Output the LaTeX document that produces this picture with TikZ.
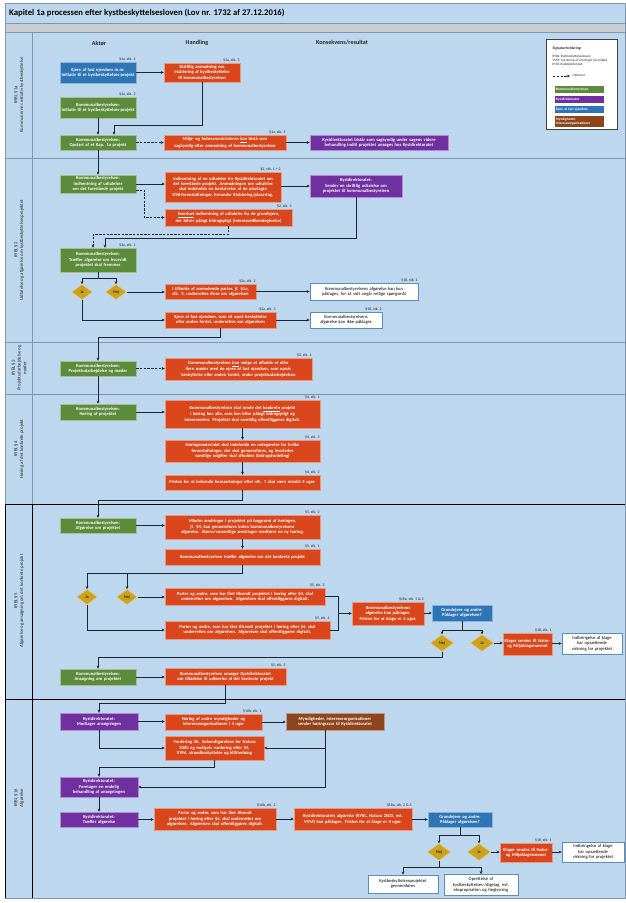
\documentclass[tikz,border=0pt]{standalone}
\usepackage{fontspec}
\setmainfont{Carlito}
\usetikzlibrary{arrows.meta,shapes.geometric,calc}
\definecolor{cgreen}{HTML}{5B8B3B}
\definecolor{corange}{HTML}{DA461C}
\definecolor{cpurple}{HTML}{7030A0}
\definecolor{cblue}{HTML}{2E75B6}
\definecolor{cbrown}{HTML}{8E451C}
\definecolor{cgold}{HTML}{CDA21A}
\definecolor{clane}{HTML}{BDD7EE}
\definecolor{cband}{HTML}{C9CED4}
\definecolor{cline}{HTML}{1B2633}
\definecolor{csep}{HTML}{7F96AD}
\definecolor{cwhiteb}{HTML}{5B8DBF}
\begin{document}
\hyphenpenalty=10000
\exhyphenpenalty=10000
\begin{tikzpicture}[x=0.03cm,y=-0.03cm,
 wh/.code 2 args={\pgfmathsetmacro\nw{#1*0.03*28.45274}\pgfmathsetmacro\ntw{\nw-2.0}\pgfmathsetmacro\nh{#2*0.03*28.45274}\edef\tmp{\noexpand\tikzset{minimum width=\nw pt,text width=\ntw pt,minimum height=\nh pt}}\tmp},
 base/.style={rectangle, inner xsep=1.0pt, inner ysep=0.4pt, align=center, font=\fontsize{3.9}{4.6}\selectfont\bfseries, text=white, line width=0.4pt},
 gbox/.style={base, fill=cgreen, draw=cgreen!55!white},
 obox/.style={base, fill=corange, draw=corange!55!white},
 pbox/.style={base, fill=cpurple, draw=cpurple!55!white},
 bbox/.style={base, fill=cblue, draw=cblue!55!white},
 brbox/.style={base, fill=cbrown, draw=cbrown!55!white},
 wbox/.style={base, fill=white, draw=cwhiteb, line width=0.6pt, text=black, font=\fontsize{3.9}{4.6}\selectfont},
 dia/.style={diamond, fill=cgold, draw=cgold!60!white, line width=0.4pt, inner sep=0pt, minimum width=#1, font=\fontsize{3.6}{4}\selectfont\bfseries, text=black!80},
 lab/.style={font=\fontsize{3.3}{4}\selectfont, text=black!85, inner sep=0.4pt},
 hdr/.style={font=\fontsize{5.2}{6}\selectfont\bfseries, text=black!85},
 lanelab/.style={rotate=90, align=center, font=\fontsize{4.1}{4.9}\selectfont, text=black!85},
 ln/.style={draw=cline, line width=0.55pt},
 arr/.style={ln, -{Stealth[length=2.6pt,width=2.4pt]}},
 dsh/.style={arr, dash pattern=on 2pt off 1.2pt},
 leg/.style={font=\fontsize{2.9}{3.4}\selectfont, text=black!85, inner sep=0.3pt, anchor=west},
 legbar/.style={base, anchor=west, font=\fontsize{3}{3.5}\selectfont\bfseries, minimum height=0.2cm, text width=1.42cm, align=left, inner xsep=0.5pt},
]
\useasboundingbox (0,0) rectangle (626,903);
\fill[white] (0,0) rectangle (626,903);
% frame and lanes
\fill[clane] (5,3) rectangle (625,898);
\fill[cband] (5,23) rectangle (625,32);
\draw[csep, line width=0.6pt] (5,3) rectangle (625,898);
\draw[csep, line width=0.6pt] (5,23) -- (625,23) (5,32) -- (625,32);
\draw[csep, line width=0.8pt] (5,158) -- (625,158) (5,342) -- (625,342) (5,394) -- (625,394);
\draw[black, line width=0.8pt] (5,504) -- (625,504) (5,699) -- (625,699);
\draw[csep, line width=0.8pt] (32,32) -- (32,504);
\draw[black, line width=0.8pt] (32,504) -- (32,898) (5,504) -- (5,898);
\node[anchor=west, font=\fontsize{7.4}{8.4}\selectfont\bfseries, text=black, inner sep=0pt] (title) at (9,13) {Kapitel 1a processen efter kystbeskyttelsesloven (Lov nr. 1732 af 27.12.2016)};

% lane labels
\node[lanelab] (ll1) at (19,95) {KYBL §1a\\Kommunernes initiativ kystbeskyttelse};
\node[lanelab] (ll2) at (19,250) {KYBL §2\\Udtalelse og afgørelse om kystbeskyttelsesprojektet};
\node[lanelab] (ll3) at (19,368) {KYBL §3\\Projektudarbejdelse og\\møder};
\node[lanelab] (ll4) at (19,449) {KYBL §4\\Høring af det konkrete projekt};
\node[lanelab] (ll5) at (19,601) {KYBL §5\\Afgørelse og ansøgning om det konkrete projekt};
\node[lanelab] (ll6) at (19,798) {KYBL §16\\Afgørelse};

% headers
\node[hdr] (hA) at (99,43) {Aktør};
\node[hdr] (hH) at (197,43) {Handling};
\node[hdr] (hK) at (342,43) {Konsekvens/resultat};

% legend
\node[draw=black!75, fill=white, line width=0.6pt, minimum width=2.13cm, minimum height=2.7cm, inner sep=0pt] (legbox) at (582,84) {};
\node[leg, font=\fontsize{3.2}{3.8}\selectfont\bfseries] (lgt) at (552,49) {Signaturforklaring:};
\node[leg, align=left, anchor=north west] (lgl) at (552,55) {KYBL: Kystbeskyttelsesloven\\VVM: Vurdering af virkninger på miljøet\\KYDI: Kystdirektoratet};
\coordinate (lga) at (553,76);
\coordinate (lgb) at (570,76);
\draw[dsh] (lga) -- (lgb);
\node[leg] (lgo) at (572,76) {Optionel};
\node[legbar, fill=cgreen] (lg1) at (555,89.5) {Kommunalbestyrelsen};
\node[legbar, fill=cpurple] (lg2) at (555,99.5) {Kystdirektoratet};
\node[legbar, fill=cblue] (lg3) at (555,109.5) {Ejere af fast ejendom};
\node[legbar, fill=cbrown, minimum height=0.32cm] (lg4) at (555,121.5) {Myndigheder,\\interesseorganisationer};

% ---------- Lane 1
\node[bbox, wh={76}{21}] (b1) at (98,72.5) {Ejere af fast ejendom m.m:\\Initiativ til et kystbeskyttelses-projekt};
\node[obox, wh={76}{19}] (o1) at (202,72.5) {Skriftlig anmodning om etablering af kystbeskyttelse til kommunalbestyrelsen};
\node[gbox, wh={76}{21}] (g1) at (98,107.5) {Kommunalbestyrelsen:\\Initiativ til et kystbeskyttelses-projekt};
\node[gbox, wh={76}{15}] (g2) at (98,142.5) {Kommunalbestyrelsen:\\Opstart af et Kap. 1a projekt};
\node[obox, wh={122}{15}] (o2) at (225,142.5) {Miljø- og fødevareministeren \underline{kan} bistå som sagkyndig efter anmodning af kommunalbestyrelsen};
\node[pbox, wh={138}{15}] (p1) at (379,142.5) {Kystdirektoratet bistår som sagkyndig under sagens videre behandling indtil projektet ansøges hos Kystdirektoratet};
\node[lab, anchor=south east] (l1) at (b1.north east) {§1a, stk. 1};
\node[lab, anchor=south east] (l2) at (o1.north east) {§1a, stk. 3};
\node[lab, anchor=south east] (l3) at (g1.north east) {§1a, stk. 2};
\node[lab, anchor=south east] (l4) at (o2.north east) {§1a, stk. 5};
\draw[arr] (b1.east) -- (b1.east -| o1.west);
\draw[arr] (o1.south) -- ++(0,43) -| ($(g2.north)+(16,0)$);
\draw[arr] (g1) -- (g2);
\draw[dsh] (g2.east) -- (g2.east -| o2.west);
\draw[arr] (o2.east) -- (o2.east -| p1.west);

% ---------- Lane 2
\node[gbox, wh={76}{18}] (g3) at (98,184) {Kommunalbestyrelsen:\\Indhentning af udtalelser om det foreslåede projekt};
\node[obox, wh={116}{30}] (o3) at (223,187) {Indhentning af en udtalelse fra Kystdirektoratet om det foreslåede projekt. Anmodningen om udtalelse skal indeholde en beskrivelse af de planlagte KYB-foranstaltninger, herunder Etablering/placering.};
\node[pbox, wh={92}{22}] (p2) at (356,186) {Kystdirektoratet:\\Sender en skriftlig udtalelse om projektet til kommunalbestyrelsen};
\node[obox, wh={127}{17}] (o4) at (228.5,217.5) {\underline{Eventuel} indhentning af udtalelse fra de grundejere, der bliver pålagt bidragspligt (interessetilkendegivelse)};
\node[gbox, wh={76}{24}] (g4) at (98,260) {Kommunalbestyrelsen:\\Træffer afgørelse om hvorvidt projektet skal fremmes};
\node[dia=0.62cm, minimum height=0.45cm] (d1) at (82,292) {Ja};
\node[dia=0.62cm, minimum height=0.45cm] (d2) at (116,292) {Nej};
\node[obox, wh={91}{15}] (o5) at (210.5,291.5) {I tilfælde af anmodende parter, jf. §1a, stk. 2, underrettes disse om afgørelsen};
\node[wbox, wh={108}{17}] (w1) at (364,291.5) {Kommunalbestyrelsens afgørelse kan kun påklages, for så vidt angår retlige spørgsmål};
\node[obox, wh={111}{16}] (o6) at (220.5,320) {Ejere af fast ejendom, som vil opnå beskyttelse eller anden fordel, underrettes om afgørelsen};
\node[wbox, wh={72}{16}] (w2) at (346,320) {Kommunalbestyrelsens afgørelse kan ikke påklages};
\node[lab, anchor=south east] (l5) at (o3.north east) {§2, stk. 1 + 2};
\node[lab, anchor=south east] (l6) at (o4.north east) {§2, stk. 3};
\node[lab, anchor=south east] (l7) at (g4.north east) {§2a, stk. 1};
\node[lab, anchor=south east] (l8) at (o5.north east) {§2a, stk. 2};
\node[lab, anchor=south east] (l9) at (w1.north east) {§18, stk. 1};
\node[lab, anchor=south east] (l10) at (o6.north east) {§2a, stk. 3};
\node[lab, anchor=south east] (l11) at (w2.north east) {§18, stk. 2};
\draw[arr] (g2) -- (g3);
\draw[arr] (g3.east) -- (g3.east -| o3.west);
\draw[arr] (o3.east |- p2.west) -- (p2.west);
\draw[dsh] ($(g3.east)+(0,6)$) -- ++(8,0) |- (o4.west);
\draw[dsh] (o4.south) -- ++(0,8) -| ($(g4.north)+(-5,0)$);
\draw[arr] (p2.south) -- ++(0,41) -| ($(g4.north)+(7,0)$);
\draw[arr] (g4.south) -- ++(0,6) -| (d1.north);
\draw[arr] (g4.south) ++(0,6) -| (d2.north);
\draw[arr] (d2.east) -- (d2.east -| o5.west);
\draw[arr] (o5.east) -- (o5.east -| w1.west);
\draw[arr] (d1.south) |- (o6.west);
\draw[arr] (o6.east) -- (o6.east -| w2.west);

% ---------- Lane 3
\node[gbox, wh={76}{15}] (g5) at (98,368.5) {Kommunalbestyrelsen:\\Projektudarbejdelse og møder};
\node[obox, wh={147}{22}] (o7) at (238.5,369) {Kommunalbestyrelsen \underline{kan} vælge at afholde et eller flere møder med de ejere af fast ejendom, som opnår beskyttelse eller anden fordel, under projektudarbejdelsen};
\node[lab, anchor=south east] (l12) at (o7.north east) {§3, stk. 1};
\draw[arr] (o6.south) -- ++(0,9) -| (g5.north);
\draw[dsh] (g5.east) -- (g5.east -| o7.west);

% ---------- Lane 4
\node[gbox, wh={76}{16}] (g6) at (98,412) {Kommunalbestyrelsen:\\Høring af projektet};
\node[obox, wh={155}{28}] (o8) at (242.5,414) {Kommunalbestyrelsen skal sende det \underline{konkrete} projekt i høring hos alle, som kan blive pålagt bidragspligt og interessenter. Projektet skal samtidig offentliggøres digitalt.};
\node[obox, wh={155}{22}] (o9) at (242.5,451) {Høringsmaterialet skal indeholde en redegørelse for hvilke foranstaltninger, der skal gennemføres, og hvorledes samtlige udgifter skal afholdes (bidragsfordeling)};
\node[obox, wh={155}{15}] (o10) at (242.5,482.5) {Fristen for at indsende bemærkninger efter stk. 1 skal være mindst 4 uger.};
\node[lab, anchor=south east] (l13) at (o8.north east) {§4, stk. 1};
\node[lab, anchor=south east] (l14) at (o9.north east) {§4, stk. 3};
\node[lab, anchor=south east] (l15) at (o10.north east) {§4, stk. 2};
\draw[arr] (g5) -- (g6);
\draw[arr] (g6.east) -- (g6.east -| o8.west);
\draw[arr] (o8) -- (o9);
\draw[arr] (o9) -- (o10);

% ---------- Lane 5
\node[gbox, wh={76}{15}] (g7) at (98,525.5) {Kommunalbestyrelsen:\\Afgørelse om projektet};
\node[obox, wh={155}{24}] (o11) at (242.5,527) {Mindre ændringer i projektet på baggrund af høringen, jf. §4, kan gennemføres inden kommunalbestyrelsens afgørelse. Større/væsentlige ændringer medfører en ny høring.};
\node[obox, wh={155}{16}] (o12) at (242.5,557) {Kommunalbestyrelsen træffer afgørelse om det konkrete projekt};
\node[dia=0.62cm, minimum height=0.45cm] (d3) at (87,597) {Ja};
\node[dia=0.62cm, minimum height=0.45cm] (d4) at (127,597) {Nej};
\node[obox, wh={160}{17}] (o13) at (245,596.5) {Parter og andre, som har fået tilsendt projektet i høring efter §4, skal underrettes om afgørelsen. Afgørelsen skal offentliggøres digitalt.};
\node[obox, wh={165}{18}] (o14) at (247.5,630) {Parter og andre, som har fået tilsendt projektet i høring efter §4, skal underrettes om afgørelsen. Afgørelsen skal offentliggøres digitalt.};
\node[obox, wh={72}{23}] (o15) at (388,613.5) {Kommunalbestyrelsens afgørelse kan påklages. Fristen for at klage er 4 uger.};
\node[bbox, wh={60}{16}] (b2) at (462,613) {Grundejere og andre:\\Påklager afgørelsen?};
\node[dia=0.7cm, minimum height=0.5cm] (d5) at (442,643) {Nej};
\node[dia=0.7cm, minimum height=0.5cm] (d6) at (482,643) {Ja};
\node[obox, wh={49}{22}] (o16) at (527.5,644) {Klager sendes til Natur- og Miljøklagenævnet};
\node[wbox, wh={60}{21}] (w3) at (592,643.5) {Indbringelse af klage har opsættende virkning for projektet};
\node[gbox, wh={76}{16}] (g8) at (98,677) {Kommunalbestyrelsen:\\Ansøgning om projektet};
\node[obox, wh={121}{17}] (o17) at (225.5,676.5) {Kommunalbestyrelsen ansøger Kystdirektoratet om tilladelse til udførelse af det konkrete projekt};
\node[lab, anchor=south east] (l16) at (o11.north east) {§5, stk. 2};
\node[lab, anchor=south east] (l17) at (o12.north east) {§5, stk. 1};
\node[lab, anchor=south east] (l18) at (o13.north east) {§5, stk. 3};
\node[lab, anchor=south east] (l19) at (o14.north east) {§5, stk. 4};
\node[lab, anchor=south east] (l20) at (o15.north east) {§18a, stk. 1 \& 3};
\node[lab, anchor=south east] (l21) at (o16.north east) {§18, stk. 1};
\node[lab, anchor=south east] (l22) at (o17.north east) {§5, stk. 5};
\draw[arr] (o10.south) -- ++(0,10) -| (g7.north);
\draw[arr] (g7.east) -- (g7.east -| o11.west);
\draw[arr] (o11) -- (o12);
\draw[arr] (o12.south) -- ++(0,8) -| (d3.north);
\draw[arr] (o12.south) ++(0,8) -| (d4.north);
\draw[arr] (d4.east) -- (d4.east -| o13.west);
\draw[arr] (d3.south) |- (o14.west);
\draw[ln] (o13.east) -- ++(13,0) coordinate (j1) |- (o14.east);
\draw[arr] (j1 |- o15.west) -- (o15.west);
\draw[arr] (o15.east |- b2.west) -- (b2.west);
\draw[arr] (b2.south) -- ++(0,9) -| (d5.north);
\draw[arr] (b2.south) ++(0,9) -| (d6.north);
\draw[arr] (d6.east) -- (d6.east -| o16.west);
\draw[arr] (o16.east |- w3.west) -- (w3.west);
\draw[arr] (d5.south) -- ++(0,6) -| (g8.north);
\draw[arr] (g8.east) -- (g8.east -| o17.west);

% ---------- Lane 6
\node[pbox, wh={78}{17}] (p3) at (99,721.5) {Kystdirektoratet:\\Modtager ansøgningen};
\node[obox, wh={97}{16}] (o18) at (213.5,722) {Høring af andre myndigheder og interesseorganisationer i 4 uger};
\node[brbox, wh={98}{17}] (br1) at (335,721.5) {Myndigheder, interesseorganisationer sender høringssvar til Kystdirektoratet};
\node[obox, wh={99}{24}] (o19) at (214.5,748) {Vurdering iht. bekendtgørelsen for Natura 2000 og muligvis vurdering efter §3, VVM, strandbeskyttelse og klitfredning};
\node[pbox, wh={78}{20}] (p4) at (99,787) {Kystdirektoratet:\\Foretager en endelig behandling af ansøgningen};
\node[pbox, wh={78}{15}] (p5) at (99,819.5) {Kystdirektoratet:\\Træffer afgørelse};
\node[obox, wh={122}{22}] (o20) at (215,819) {Parter og andre, som har fået tilsendt projektet i høring efter §4, skal underrettes om afgørelsen. Afgørelsen skal offentliggøres digitalt.};
\node[obox, wh={118}{22}] (o21) at (353,819) {Kystdirektoratets afgørelse (KYBL, Natura 2000, evt. VVM) kan påklages. Fristen for at klage er 4 uger.};
\node[bbox, wh={64}{15}] (b3) at (460,819.5) {Grundejere og andre:\\Påklager afgørelsen?};
\node[dia=0.7cm, minimum height=0.5cm] (d7) at (439,852) {Nej};
\node[dia=0.7cm, minimum height=0.5cm] (d8) at (479,852) {Ja};
\node[obox, wh={52}{19}] (o22) at (526,852.5) {Klager sendes til Natur- og Miljøklagenævnet};
\node[wbox, wh={62}{20}] (w4) at (593,852) {Indbringelse af klage har opsættende virkning for projektet};
\node[wbox, wh={70}{18}] (w5) at (403,884) {Kystbeskyttelsesprojektet gennemføres};
\node[wbox, wh={74}{21}] (w6) at (481,885) {Oprettelse af kystbeskyttelses-/digelag, evt. ekspropriation og tinglysning};
\node[lab, anchor=south east] (l23) at (o18.north east) {§16b, stk. 1};
\node[lab, anchor=south east] (l24) at (o20.north east) {§16b, stk. 2};
\node[lab, anchor=south east] (l25) at (o21.north east) {§18a, stk. 2 \& 3};
\node[lab, anchor=south east] (l26) at (o22.north east) {§18, stk. 1};
\draw[arr] (o17.south) -- ++(0,18) -| (p3.north);
\draw[arr] (p3.east) -- (p3.east -| o18.west);
\draw[arr] (o18.east) -- (o18.east -| br1.west);
\draw[arr] (p3.south) |- (o19.west);
\draw[arr] ($(br1.south)+(-10,0)$) |- (o19.east);
\draw[arr] ($(br1.south)+(-10,0)$) |- (p4.east);
\draw[arr] (o19.south) -- ++(0,7) -| (p4.north);
\draw[arr] (p4) -- (p5);
\draw[arr] (p5.east) -- (p5.east -| o20.west);
\draw[arr] (o20.east) -- (o20.east -| o21.west);
\draw[arr] (o21.east |- b3.west) -- (b3.west);
\draw[arr] (b3.south) -- ++(0,8) -| (d7.north);
\draw[arr] (b3.south) ++(0,8) -| (d8.north);
\draw[arr] (d8.east) -- (d8.east -| o22.west);
\draw[arr] (o22.east |- w4.west) -- (w4.west);
\draw[arr] (d7.south) -- ++(0,7) -| (w5.north);
\draw[arr] (d7.south) ++(0,7) -| (w6.north);
\end{tikzpicture}
\end{document}
